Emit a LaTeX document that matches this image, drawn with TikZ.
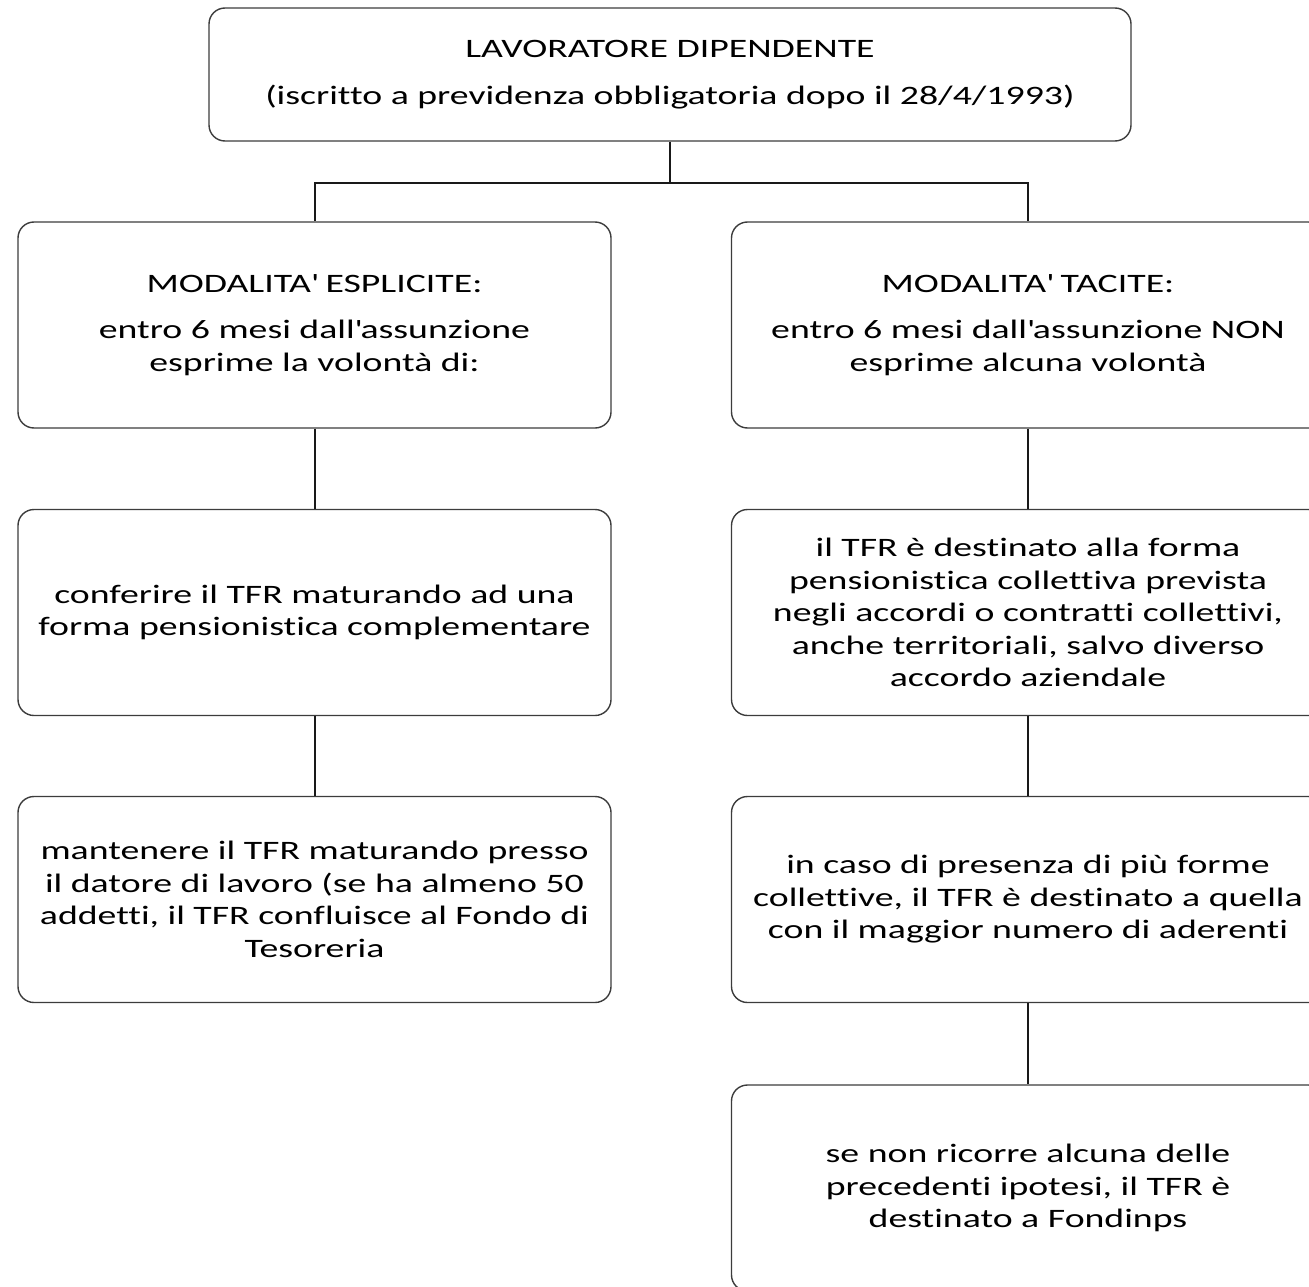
\documentclass[tikz,border=0pt]{standalone}
\usepackage{fontspec}
\setmainfont{Carlito}[FakeStretch=1.42,Ligatures={NoCommon}]
\definecolor{boxline}{HTML}{3C3C3C}
\newcommand{\ap}{\textquotesingle}
\begin{document}
\begin{tikzpicture}[x=1pt,y=-1pt,
  box/.style={draw=boxline,line width=1.4pt,rounded corners=16pt,fill=white,
    minimum width=593pt,minimum height=206pt,align=center,inner sep=0pt,
    font=\fontsize{26.6}{32.5}\selectfont},
  conn/.style={draw=black!90,line width=2pt}]
\useasboundingbox (0,0) rectangle (1309,1287);
\begin{scope}
\clip (0,0) rectangle (1309,1287);
\node[box,minimum width=922pt,minimum height=133pt] (top) at (670,74.5)
  {LAVORATORE DIPENDENTE\\[14pt](iscritto a previdenza obbligatoria dopo il 28/4/1993)};
\node[box] (l1) at (314.5,325) {MODALITA\ap{} ESPLICITE:\\[13.5pt]entro 6 mesi dall\ap{}assunzione\\esprime la volontà di:};
\node[box] (r1) at (1028,325) {MODALITA\ap{} TACITE:\\[13.5pt]entro 6 mesi dall\ap{}assunzione NON\\esprime alcuna volontà};
\node[box] (l2) at (314.5,612.5) {conferire il TFR maturando ad una\\forma pensionistica complementare};
\node[box] (r2) at (1028,612.5) {il TFR è destinato alla forma\\pensionistica collettiva prevista\\negli accordi o contratti collettivi,\\anche territoriali, salvo diverso\\accordo aziendale};
\node[box] (l3) at (314.5,899.5) {mantenere il TFR maturando presso\\il datore di lavoro (se ha almeno 50\\addetti, il TFR confluisce al Fondo di\\Tesoreria};
\node[box] (r3) at (1028,899.5) {in caso di presenza di più forme\\collettive, il TFR è destinato a quella\\con il maggior numero di aderenti};
\node[box] (r4) at (1028,1188) {se non ricorre alcuna delle\\precedenti ipotesi, il TFR è\\destinato a Fondinps};
\coordinate (j) at (670,183);
\draw[conn] (top.south) -- (j);
\draw[conn] (j) -| (l1.north);
\draw[conn] (j) -| (r1.north);
\draw[conn] (l1.south) -- (l2.north);
\draw[conn] (l2.south) -- (l3.north);
\draw[conn] (r1.south) -- (r2.north);
\draw[conn] (r2.south) -- (r3.north);
\draw[conn] (r3.south) -- (r4.north);
\end{scope}
\end{tikzpicture}
\end{document}
